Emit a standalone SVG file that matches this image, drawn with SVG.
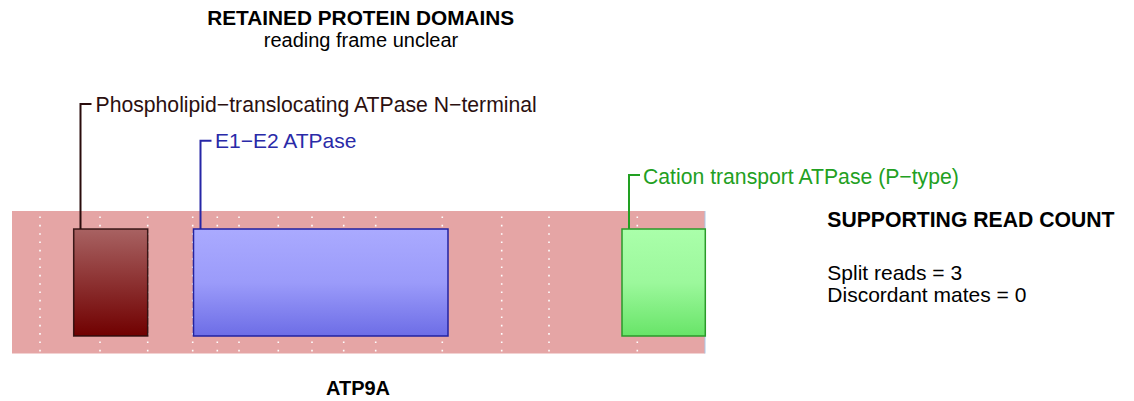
<svg xmlns="http://www.w3.org/2000/svg" width="1134" height="401" viewBox="0 0 1134 401">
<defs>
<linearGradient id="gBrown" x1="0" y1="0" x2="0" y2="1"><stop offset="0" stop-color="#a86262"/><stop offset="1" stop-color="#700000"/></linearGradient>
<linearGradient id="gBlue" x1="0" y1="0" x2="0" y2="1"><stop offset="0" stop-color="#aaaaff"/><stop offset="0.5" stop-color="#9b9bfa"/><stop offset="1" stop-color="#6d6de6"/></linearGradient>
<linearGradient id="gGreen" x1="0" y1="0" x2="0" y2="1"><stop offset="0" stop-color="#aaffaa"/><stop offset="0.5" stop-color="#9cf89c"/><stop offset="1" stop-color="#68e468"/></linearGradient>
</defs>
<style>
text{font-family:"Liberation Sans",Arial,sans-serif;}
.b{font-weight:bold;}
.dot{stroke:#ffffff;stroke-width:1.6;stroke-dasharray:1.6 6.73;fill:none;}
.conn{fill:none;stroke-width:2;}
</style>
<rect width="1134" height="401" fill="#ffffff"/>
<g id="title">
<text class="b" x="360.7" y="25" font-size="20.8" text-anchor="middle" fill="#000">RETAINED PROTEIN DOMAINS</text>
<text x="361" y="46.5" font-size="20" text-anchor="middle" fill="#000">reading frame unclear</text>
</g>
<g id="gene-ATP9A">
<rect x="12" y="211" width="693" height="142.5" fill="#e5a5a5"/>
<line x1="705" y1="211" x2="705" y2="353.5" stroke="#a8c8e8" stroke-width="1"/>
<g id="breakpoints">
<line class="dot" x1="40" y1="216.5" x2="40" y2="352"/>
<line class="dot" x1="100" y1="216.5" x2="100" y2="352"/>
<line class="dot" x1="147.7" y1="216.5" x2="147.7" y2="352"/>
<line class="dot" x1="192.7" y1="216.5" x2="192.7" y2="352"/>
<line class="dot" x1="217.3" y1="216.5" x2="217.3" y2="352"/>
<line class="dot" x1="239" y1="216.5" x2="239" y2="352"/>
<line class="dot" x1="278.3" y1="216.5" x2="278.3" y2="352"/>
<line class="dot" x1="312" y1="216.5" x2="312" y2="352"/>
<line class="dot" x1="343.7" y1="216.5" x2="343.7" y2="352"/>
<line class="dot" x1="375.7" y1="216.5" x2="375.7" y2="352"/>
<line class="dot" x1="442.3" y1="216.5" x2="442.3" y2="352"/>
<line class="dot" x1="501.7" y1="216.5" x2="501.7" y2="352"/>
<line class="dot" x1="549" y1="216.5" x2="549" y2="352"/>
<line class="dot" x1="637.3" y1="216.5" x2="637.3" y2="352"/>
</g>
<text class="b" x="358" y="395" font-size="20" text-anchor="middle" fill="#000">ATP9A</text>
</g>
<g id="connectors">
<polyline class="conn" stroke="#2a0c0c" points="80.5,229 80.5,104 91.5,104"/>
<polyline class="conn" stroke="#2626a6" points="200.5,229 200.5,140.7 211.5,140.7"/>
<polyline class="conn" stroke="#22a022" points="629,229 629,175 640,175"/>
</g>
<g id="domain-phospholipid">
<rect x="73.7" y="229" width="74" height="107" fill="url(#gBrown)" stroke="#2a0c0c" stroke-width="1.5" stroke-opacity="0.9"/>
<text x="95.5" y="111.7" font-size="21.2" fill="#2b1010">Phospholipid−translocating ATPase N−terminal</text>
</g>
<g id="domain-e1e2">
<rect x="193.5" y="229" width="254.5" height="107" fill="url(#gBlue)" stroke="#2222a0" stroke-width="1.5"/>
<text x="215" y="148.3" font-size="21" fill="#2a2aa8">E1−E2 ATPase</text>
</g>
<g id="domain-cation">
<rect x="622" y="229" width="83.3" height="107" fill="url(#gGreen)" stroke="#2a9a2a" stroke-width="1.5"/>
<text x="643" y="184" font-size="21.2" fill="#22a022">Cation transport ATPase (P−type)</text>
</g>
<g id="read-count">
<text class="b" x="827.3" y="227" font-size="21.2" fill="#000">SUPPORTING READ COUNT</text>
<text x="827.3" y="280" font-size="21" fill="#000">Split reads = 3</text>
<text x="827.3" y="301.7" font-size="21" fill="#000">Discordant mates = 0</text>
</g>
</svg>
